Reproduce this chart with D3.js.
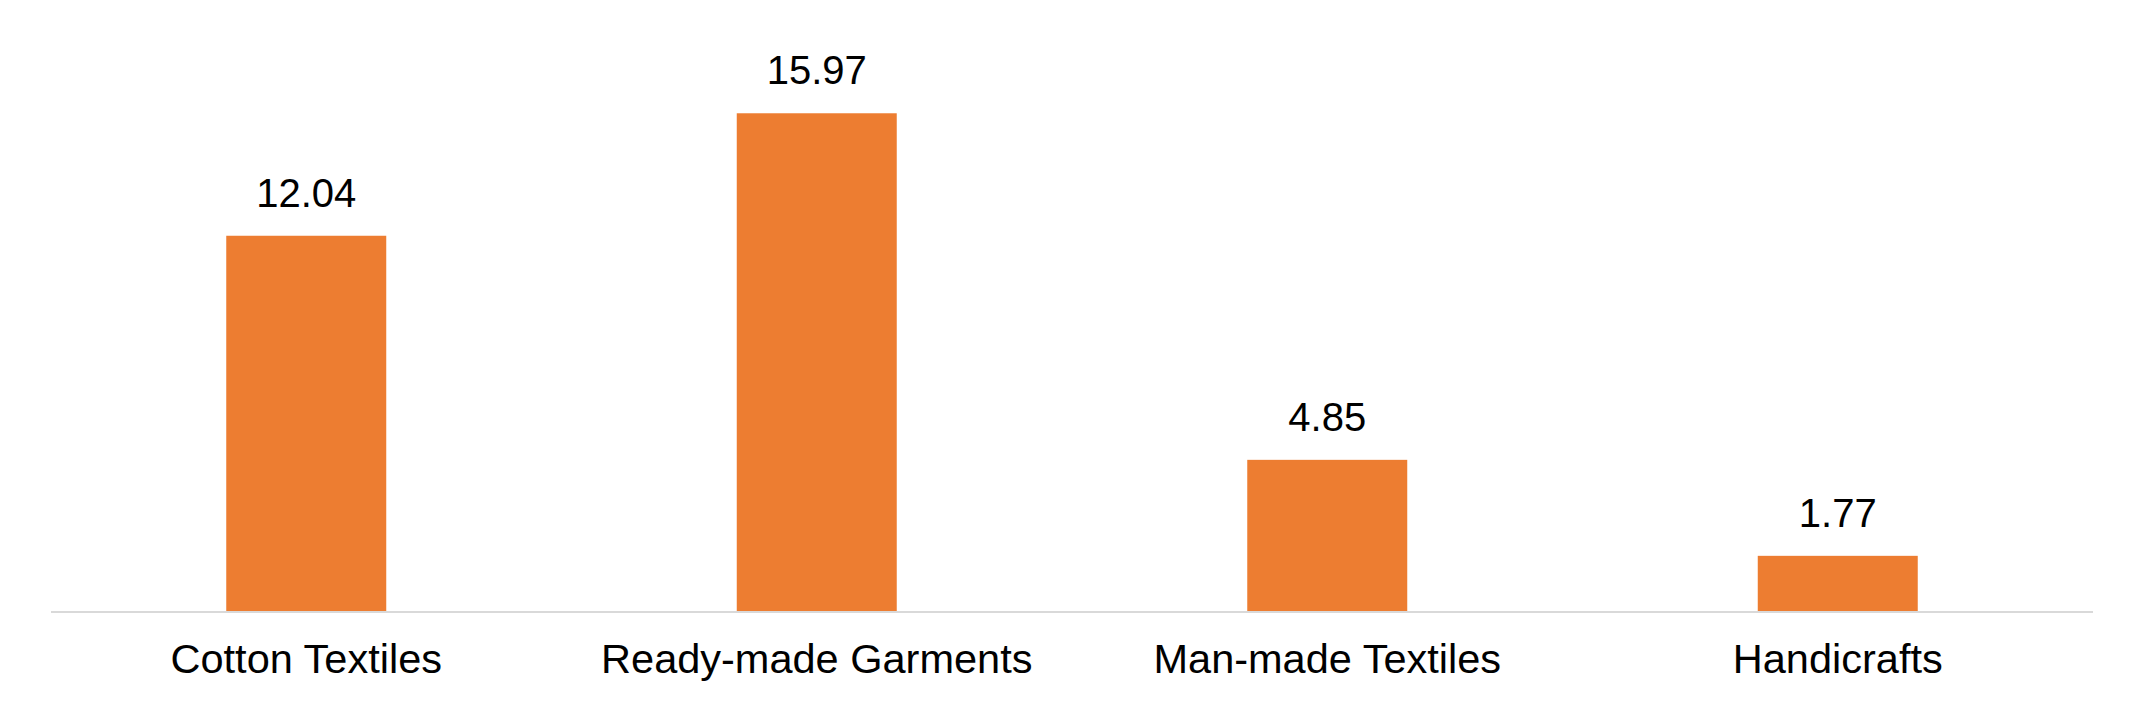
<!DOCTYPE html>
<html>
<head>
<meta charset="utf-8">
<script src="https://cdn.jsdelivr.net/npm/d3@7"></script>
<style>
  html, body { margin: 0; padding: 0; background: #fff; }
  svg { display: block; }
</style>
</head>
<body>
<svg id="chart" width="2145" height="714"></svg>
<script>
const categories = ["Cotton Textiles", "Ready-made Garments", "Man-made Textiles", "Handicrafts"];
const values = [12.04, 15.97, 4.85, 1.77];
const valueLabels = ["12.04", "15.97", "4.85", "1.77"];

const W = 2145, H = 714;
const left = 51, right = 2093, baseY = 611, topY = 50;
const svg = d3.select("#chart");

const x = d3.scaleBand().domain(categories).range([left, right]).padding(0);
const y = d3.scaleLinear().domain([0, 18]).range([baseY, topY]);
const barW = x.bandwidth() * 0.3134;

const data = categories.map((c, i) => ({ c, v: values[i], l: valueLabels[i] }));

svg.selectAll("rect.bar").data(data).enter().append("rect")
  .attr("class", "bar")
  .attr("x", d => x(d.c) + x.bandwidth() / 2 - barW / 2)
  .attr("y", d => y(d.v))
  .attr("width", barW)
  .attr("height", d => y(0) - y(d.v))
  .attr("fill", "#ED7D31");

// axis line
const xAxis = d3.axisBottom(x).tickSize(0).tickPadding(0).tickFormat("");
const axisG = svg.append("g").attr("transform", `translate(0,${baseY + 1})`).call(xAxis);
axisG.select(".domain").attr("stroke", "#d9d9d9").attr("stroke-width", 2).attr("d", `M${left},0H${right}`);

svg.selectAll("text.val").data(data).enter().append("text")
  .attr("class", "val")
  .attr("x", d => x(d.c) + x.bandwidth() / 2)
  .attr("y", d => y(d.v) - 29)
  .attr("text-anchor", "middle")
  .attr("font-family", "'Liberation Sans', Arial, sans-serif")
  .attr("font-size", 40)
  .attr("fill", "#000")
  .text(d => d.l);

svg.selectAll("text.cat").data(data).enter().append("text")
  .attr("class", "cat")
  .attr("x", d => x(d.c) + x.bandwidth() / 2)
  .attr("y", 673)
  .attr("text-anchor", "middle")
  .attr("font-family", "'Liberation Sans', Arial, sans-serif")
  .attr("font-size", 41.5)
  .attr("fill", "#000")
  .text(d => d.c);
</script>
</body>
</html>
